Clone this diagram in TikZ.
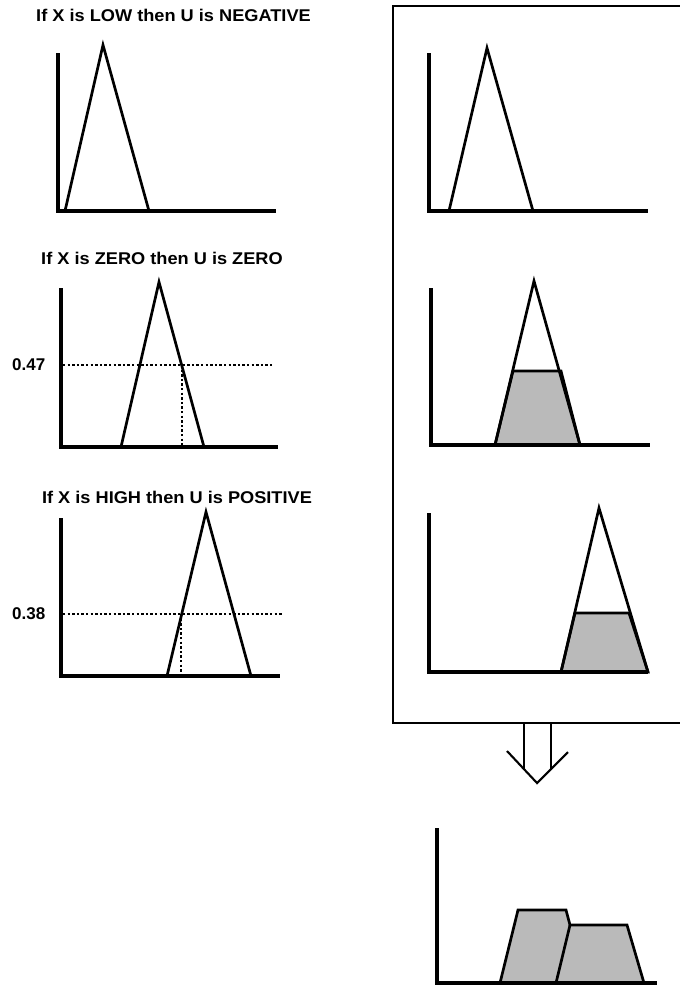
\documentclass[tikz,border=0pt]{standalone}
\usepackage{graphicx}
\usepackage{fontspec}
\setmainfont{Liberation Sans}
\newcommand{\wtxt}[1]{\scalebox{1.07}[1]{#1}}
\begin{document}
\begin{tikzpicture}[x=1pt,y=-1pt,
  axisline/.style={line width=3.6pt, line join=miter},
  tri/.style={line width=2.7pt, line join=miter},
  trap/.style={line width=2.7pt, line join=miter, fill=black!27},
  dotline/.style={line width=2.7pt, dash pattern=on 2.3pt off 2.3pt},
  frame/.style={line width=2.1pt},
  ttl/.style={font=\fontsize{17}{17}\selectfont\bfseries, inner sep=0pt, anchor=center},
  lbl/.style={font=\fontsize{17}{17}\selectfont\bfseries, inner sep=0pt, anchor=west}]
\useasboundingbox (0,0) rectangle (680,986);
% titles
\node[ttl] (t1) at (173.5,15) {\wtxt{If X is LOW then U is NEGATIVE}};
\node[ttl] (t2) at (162,258) {\wtxt{If X is ZERO then U is ZERO}};
\node[ttl] (t3) at (177,497) {\wtxt{If X is HIGH then U is POSITIVE}};
% left chart 1
\draw[tri] (65,211) -- (103,45) -- (149,211);
\draw[axisline] (58,53) -- (58,211) -- (276,211);
% left chart 2
\draw[dotline] (63,365) -- (273,365);
\draw[dotline] (182,365) -- (182,447);
\draw[tri] (121,447) -- (159,282) -- (204,447);
\draw[axisline] (61,288) -- (61,447) -- (278,447);
\node[lbl] (v1) at (12,365) {0.47};
% left chart 3
\draw[dotline] (63,614) -- (282,614);
\draw[dotline] (181,614) -- (181,676);
\draw[tri] (167,676) -- (206,512) -- (251,676);
\draw[axisline] (61,518) -- (61,676) -- (280,676);
\node[lbl] (v2) at (12,614) {0.38};
% right frame
\draw[frame] (393,6) rectangle (700,723);
% right chart 1
\draw[tri] (449,211) -- (487,48) -- (533,211);
\draw[axisline] (429,53) -- (429,211) -- (648,211);
% right chart 2
\draw[trap] (495,445) -- (513,371) -- (561,371) -- (580,445) -- cycle;
\draw[tri] (495,445) -- (534,281) -- (580,445);
\draw[axisline] (431,288) -- (431,445) -- (650,445);
% right chart 3
\draw[trap] (561,672) -- (575,613) -- (629,613) -- (648,672) -- cycle;
\draw[tri] (561,672) -- (599,508) -- (648,672);
\draw[axisline] (429,513) -- (429,672) -- (648,672);
% arrow
\draw[frame] (524,723) -- (524,769);
\draw[frame] (551,723) -- (551,769);
\draw[frame] (507,751) -- (537,783) -- (568,752);
% result chart
\draw[trap] (500,983) -- (518,910) -- (566,910) -- (570,925) -- (627,925) -- (644,983) -- cycle;
\draw[tri] (570,925) -- (556,983);
\draw[axisline] (437,828) -- (437,983) -- (657,983);
\end{tikzpicture}
\end{document}
